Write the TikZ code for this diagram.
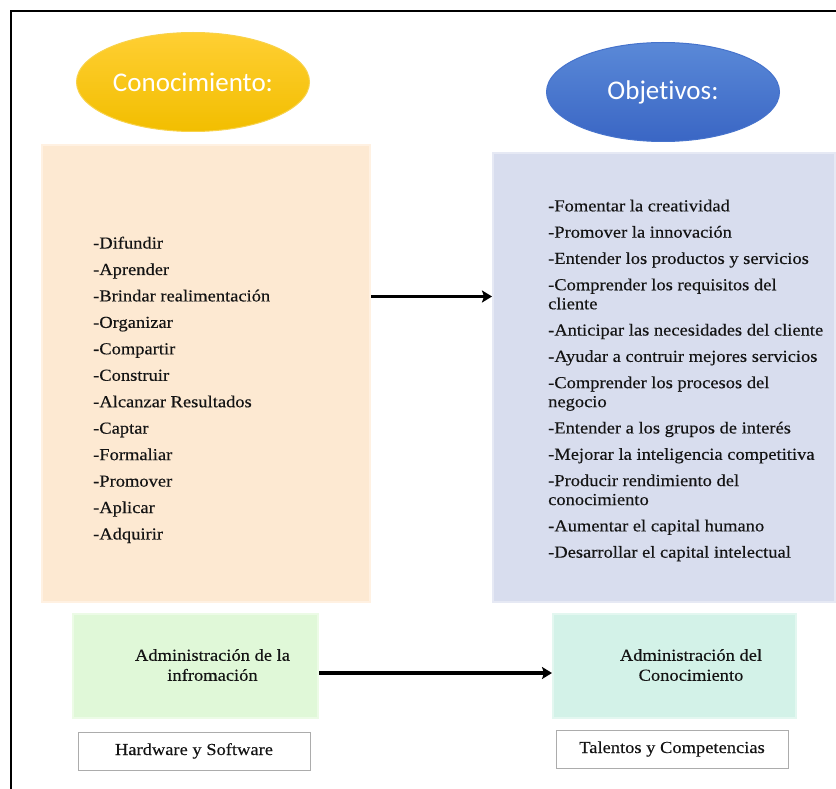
\documentclass[tikz,border=0pt]{standalone}
\usepackage{fontspec}
\setmainfont{Liberation Serif}[FakeStretch=1.1,FakeBold=0.3]
\newfontfamily\titlefont{Carlito}[Ligatures={NoCommon,NoRequired,NoContextual}]
\usetikzlibrary{shapes.geometric,arrows.meta}

\definecolor{peach}{HTML}{FDE9D2}
\definecolor{peachedge}{HTML}{FFF1E2}
\definecolor{lavender}{HTML}{D8DDEE}
\definecolor{lavenderedge}{HTML}{E6E9F4}
\definecolor{mint}{HTML}{E0F8D8}
\definecolor{mintedge}{HTML}{ECFBE6}
\definecolor{aqua}{HTML}{D3F2E8}
\definecolor{aquaedge}{HTML}{E3F7F0}
\definecolor{goldtop}{HTML}{FFCF33}
\definecolor{goldbot}{HTML}{F2BE00}
\definecolor{goldrim}{HTML}{F8D24A}
\definecolor{bluetop}{HTML}{5A89D8}
\definecolor{bluebot}{HTML}{3A66C4}
\definecolor{bluerim}{HTML}{4673CC}

\begin{document}
\begin{tikzpicture}[x=1pt,y=-1pt,
  title/.style={ellipse, inner sep=0pt, minimum width=233pt, minimum height=99pt,
    font=\titlefont\fontsize{27}{30}\selectfont, text=white, line width=1pt},
  panel/.style={rectangle, inner sep=0pt, line width=2pt},
  body/.style={inner sep=0pt, text=black!92, font=\fontsize{16.8}{19}\selectfont},
  tag/.style={rectangle, inner sep=0pt, draw=gray!65, fill=white, line width=0.9pt},
  link/.style={line width=3.4pt, -{Stealth[length=10pt,width=12pt,inset=2pt]}}]

\useasboundingbox (0,0) rectangle (836,789);
\clip (0,0) rectangle (836,789);
\fill[white] (0,0) rectangle (836,789);

% outer frame (runs off the right and bottom edges)
\draw[line width=1.8pt] (11,11) rectangle (870,820);

% headings
\node[title, top color=goldtop, bottom color=goldbot, draw=goldrim] (conoc) at (193,82) {Conocimiento:};
\node[title, top color=bluetop, bottom color=bluebot, draw=bluerim] (objet) at (663,92) {Objetivos:};

% main panels
\node[panel, fill=peach, draw=peachedge, minimum width=328pt, minimum height=457pt] (know) at (206,373.5) {};
\node[panel, fill=lavender, draw=lavenderedge, minimum width=342pt, minimum height=449pt] (obj) at (664,377.5) {};

\node[body, anchor=north west, align=left] (knowlist) at (93,236.5) {%
-Difundir\\[7.45pt]
-Aprender\\[7.45pt]
-Brindar realimentación\\[7.45pt]
-Organizar\\[7.45pt]
-Compartir\\[7.45pt]
-Construir\\[7.45pt]
-Alcanzar Resultados\\[7.45pt]
-Captar\\[7.45pt]
-Formaliar\\[7.45pt]
-Promover\\[7.45pt]
-Aplicar\\[7.45pt]
-Adquirir};

\node[body, anchor=north west, align=left] (objlist) at (548,199.5) {%
-Fomentar la creatividad\\[7.3pt]
-Promover la innovación\\[7.3pt]
-Entender los productos y servicios\\[7.3pt]
-Comprender los requisitos del\\
cliente\\[7.3pt]
-Anticipar las necesidades del cliente\\[7.3pt]
-Ayudar a contruir mejores servicios\\[7.3pt]
-Comprender los procesos del\\
negocio\\[7.3pt]
-Entender a los grupos de interés\\[7.3pt]
-Mejorar la inteligencia competitiva\\[7.3pt]
-Producir rendimiento del\\
conocimiento\\[7.3pt]
-Aumentar el capital humano\\[7.3pt]
-Desarrollar el capital intelectual};

% lower boxes
\node[panel, fill=mint, draw=mintedge, minimum width=245pt, minimum height=104pt] (infoadm) at (195.5,666) {};
\node[panel, fill=aqua, draw=aquaedge, minimum width=243pt, minimum height=104pt] (knowadm) at (674.5,666) {};
\node[body, align=center, font=\fontsize{16.8}{20}\selectfont] (infotext) at (212.5,665) {Administración de la\\infromación};
\node[body, align=center, font=\fontsize{16.8}{20}\selectfont] (knowtext) at (691,665) {Administración del\\Conocimiento};

\node[tag, minimum width=232pt, minimum height=38pt] (hwsw) at (194,751) {};
\node[tag, minimum width=232pt, minimum height=38pt] (talent) at (672,749) {};
\node[body, anchor=base] (hwtext) at (194,755) {Hardware y Software};
\node[body, anchor=base] (talenttext) at (672,753) {Talentos y Competencias};

% connectors
\coordinate (ytop) at (0,296.5);
\coordinate (ybot) at (0,673);
\draw[link] (know.east |- ytop) -- (obj.west |- ytop);
\draw[link] (infoadm.east |- ybot) -- (knowadm.west |- ybot);
\end{tikzpicture}
\end{document}
